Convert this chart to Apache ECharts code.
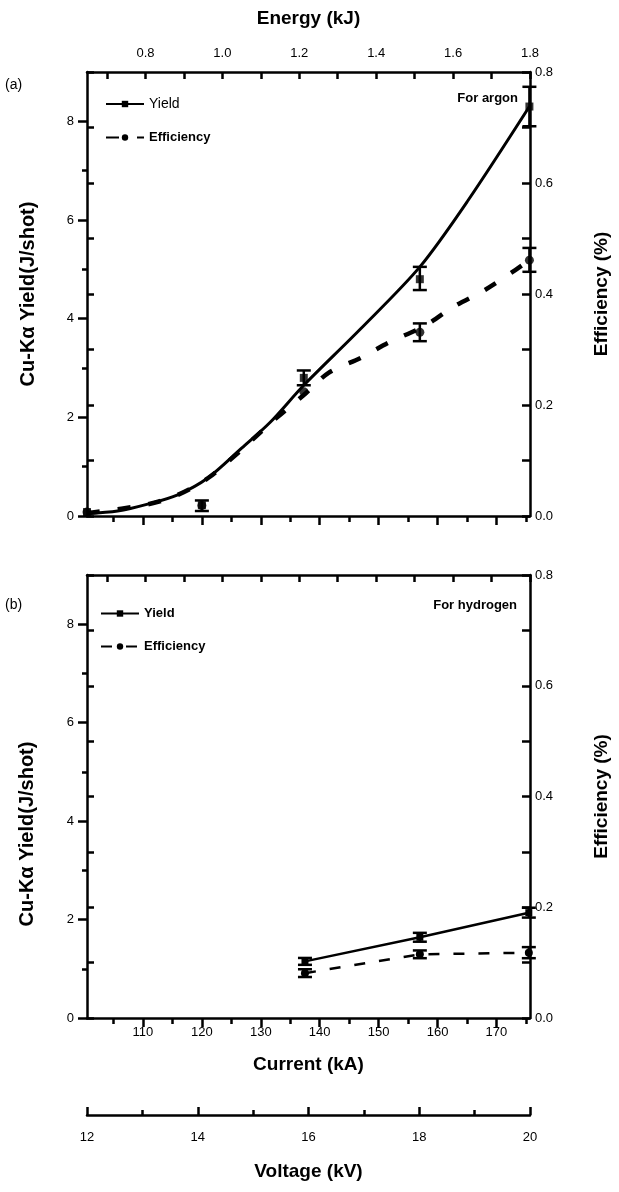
<!DOCTYPE html>
<html>
<head>
<meta charset="utf-8">
<title>Cu-Kα yield and efficiency</title>
<script src="https://cdn.jsdelivr.net/npm/echarts@6/dist/echarts.min.js"></script>
<style>
html, body { margin: 0; padding: 0; background: #fff; }
#chart { width: 619px; height: 1192px; }
</style>
</head>
<body>
<div id="chart"></div>
<script>
// tick positions / labels
const energyLabels = [0.8, 1.0, 1.2, 1.4, 1.6, 1.8];
const energyTicks = [0.7, 0.8, 0.9, 1.0, 1.1, 1.2, 1.3, 1.4, 1.5, 1.6, 1.7, 1.8];
const currentLabels = [110, 120, 130, 140, 150, 160, 170];
const currentMinorTicks = [105, 115, 125, 135, 145, 155, 165, 175];
const voltageLabels = [12, 14, 16, 18, 20];
const voltageMinorTicks = [13, 15, 17, 19];
const yieldLabels = [0, 2, 4, 6, 8];
const yieldMinorTicks = [1, 3, 5, 7];
const effLabels = [0, 0.2, 0.4, 0.6, 0.8];
const effTicks = [0, 0.1, 0.2, 0.3, 0.4, 0.5, 0.6, 0.7, 0.8];

// (a) argon
const argonCurrent = [100.5, 120, 137.3, 157, 175.6];
const argonYield = [0.08, 0.22, 2.8, 4.8, 8.3];
const argonEff = [0.007, 0.019, 0.224, 0.331, 0.461];
const argonYieldErr = [[137.3, 2.65, 2.95], [157, 4.58, 5.05], [175.6, 7.9, 8.7]];
const argonEffErr = [[120, 0.009, 0.028], [157, 0.315, 0.347], [175.6, 0.44, 0.483]];
const argonYieldFitX = [100.5, 105.7, 110.8, 115.9, 121, 126.8, 131.6, 137.3, 147, 157, 165.2, 175.6];
const argonYieldFit = [0.05, 0.1, 0.24, 0.43, 0.77, 1.38, 1.9, 2.65, 3.8, 5.05, 6.4, 8.3];
const argonEffFitX = [100.5, 110.8, 115.9, 121, 126.8, 131.6, 137.3, 141.5, 147, 151.6, 157.9, 162.7, 168, 173.2, 175.6];
const argonEffFit = [0.005, 0.021, 0.038, 0.068, 0.12, 0.167, 0.218, 0.258, 0.285, 0.312, 0.343, 0.377, 0.407, 0.443, 0.461];

// (b) hydrogen
const hydrogenCurrent = [137.5, 157, 175.5];
const hydrogenYield = [1.15, 1.64, 2.14];
const hydrogenEff = [0.081, 0.115, 0.118];
const hydrogenYieldErr = [[137.5, 1.08, 1.22], [157, 1.55, 1.73], [175.5, 2.04, 2.24]];
const hydrogenEffErr = [[137.5, 0.074, 0.088], [157, 0.108, 0.122], [175.5, 0.108, 0.128]];

const FONT = 'Liberation Sans';
const BLACK = '#000';

function pairs(xs, ys) {
    return xs.map((x, i) => [x, ys[i]]);
}

function errorBar(params, api) {
    const x = api.value(0);
    const lo = api.coord([x, api.value(1)]);
    const hi = api.coord([x, api.value(2)]);
    const half = 7;
    const style = { stroke: BLACK, lineWidth: 2.5 };
    return {
        type: 'group',
        children: [
            { type: 'line', shape: { x1: lo[0], y1: lo[1], x2: hi[0], y2: hi[1] }, style: style },
            { type: 'line', shape: { x1: lo[0] - half, y1: lo[1], x2: lo[0] + half, y2: lo[1] }, style: style },
            { type: 'line', shape: { x1: hi[0] - half, y1: hi[1], x2: hi[0] + half, y2: hi[1] }, style: style }
        ]
    };
}

// an axis that only draws ticks (no line, no labels)
function tickAxis(grid, position, min, max, ticks, len, inside, extra) {
    return Object.assign({
        type: 'value', gridIndex: grid, position: position, min: min, max: max,
        axisLine: { show: false, onZero: false },
        axisTick: { show: true, inside: inside, length: len, customValues: ticks, lineStyle: { color: BLACK, width: 2.5 } },
        axisLabel: { show: false },
        splitLine: { show: false }
    }, extra || {});
}

const lineAxis = { show: true, onZero: false, lineStyle: { color: BLACK, width: 2.5 } };
const labelStyle = { color: BLACK, fontSize: 13, fontFamily: FONT };
const titleStyle = { color: BLACK, fontSize: 19, fontWeight: 'bold', fontFamily: FONT };

const CMIN = 100.5, CMAX = 175.7;
const EMIN = 0.648, EMAX = 1.8;

const xAxes = [
    // 0: panel a current (bottom, no labels)
    {
        type: 'value', gridIndex: 0, position: 'bottom', min: CMIN, max: CMAX,
        axisLine: lineAxis,
        axisTick: { show: true, length: 9, customValues: currentLabels, lineStyle: { color: BLACK, width: 2.5 } },
        axisLabel: { show: false }, splitLine: { show: false }
    },
    tickAxis(0, 'bottom', CMIN, CMAX, currentMinorTicks, 6, false),
    // 2: panel a energy (top)
    {
        type: 'value', gridIndex: 0, position: 'top', min: EMIN, max: EMAX,
        name: 'Energy (kJ)', nameLocation: 'middle', nameGap: 44, nameTextStyle: titleStyle,
        axisLine: lineAxis,
        axisTick: { show: true, inside: true, length: 7, customValues: energyTicks, lineStyle: { color: BLACK, width: 2.5 } },
        axisLabel: Object.assign({ margin: 12, customValues: energyLabels, formatter: v => v.toFixed(1) }, labelStyle),
        splitLine: { show: false }
    },
    // 3: panel b current
    {
        type: 'value', gridIndex: 1, position: 'bottom', min: CMIN, max: CMAX,
        name: 'Current (kA)', nameLocation: 'middle', nameGap: 37, nameTextStyle: titleStyle,
        axisLine: lineAxis,
        axisTick: { show: true, length: 9, customValues: currentLabels, lineStyle: { color: BLACK, width: 2.5 } },
        axisLabel: Object.assign({ margin: 8, customValues: currentLabels }, labelStyle),
        splitLine: { show: false }
    },
    tickAxis(1, 'bottom', CMIN, CMAX, currentMinorTicks, 6, false),
    // 5: panel b energy ticks on top
    {
        type: 'value', gridIndex: 1, position: 'top', min: EMIN, max: EMAX,
        axisLine: lineAxis,
        axisTick: { show: true, inside: true, length: 7, customValues: energyTicks, lineStyle: { color: BLACK, width: 2.5 } },
        axisLabel: { show: false }, splitLine: { show: false }
    },
    // 6: voltage axis under panel b
    {
        type: 'value', gridIndex: 1, position: 'bottom', offset: 97, min: 12, max: 20,
        name: 'Voltage (kV)', nameLocation: 'middle', nameGap: 47, nameTextStyle: titleStyle,
        axisLine: lineAxis,
        axisTick: { show: true, inside: true, length: 8, customValues: voltageLabels, lineStyle: { color: BLACK, width: 2.5 } },
        axisLabel: Object.assign({ margin: 16, customValues: voltageLabels }, labelStyle),
        splitLine: { show: false }
    },
    tickAxis(1, 'bottom', 12, 20, voltageMinorTicks, 5, true, { offset: 97 })
];

function yieldAxis(grid) {
    return {
        type: 'value', gridIndex: grid, position: 'left', min: 0, max: 9,
        name: grid === 0 ? 'Cu-Kα Yield(J/shot)' : '', nameLocation: 'middle', nameGap: 49, nameRotate: 90,
        nameTextStyle: Object.assign({}, titleStyle, { fontSize: 20 }),
        axisLine: lineAxis,
        axisTick: { show: true, length: 9, customValues: yieldLabels, lineStyle: { color: BLACK, width: 2.5 } },
        axisLabel: Object.assign({ margin: 13, customValues: yieldLabels }, labelStyle),
        splitLine: { show: false }
    };
}

function effAxis(grid) {
    return {
        type: 'value', gridIndex: grid, position: 'right', min: 0, max: 0.8,
        name: 'Efficiency (%)', nameLocation: 'middle', nameGap: 62, nameRotate: 90,
        nameTextStyle: titleStyle,
        axisLine: lineAxis,
        axisTick: { show: true, inside: true, length: 8, customValues: effTicks, lineStyle: { color: BLACK, width: 2.5 } },
        axisLabel: Object.assign({ margin: 5, customValues: effLabels, formatter: v => v.toFixed(1) }, labelStyle),
        splitLine: { show: false }
    };
}

const yAxes = [
    yieldAxis(0),
    tickAxis(0, 'left', 0, 9, yieldMinorTicks, 5, false),
    effAxis(0),
    tickAxis(0, 'left', 0, 0.8, effTicks, 7, true),
    yieldAxis(1),
    tickAxis(1, 'left', 0, 9, yieldMinorTicks, 5, false),
    effAxis(1),
    tickAxis(1, 'left', 0, 0.8, effTicks, 7, true)
];

const series = [
    // panel a
    {
        name: 'Yield', type: 'line', xAxisIndex: 0, yAxisIndex: 0, smooth: 0.3,
        symbol: 'rect', showSymbol: false, symbolSize: 7,
        lineStyle: { color: BLACK, width: 3 }, itemStyle: { color: BLACK },
        data: pairs(argonYieldFitX, argonYieldFit), z: 3
    },
    {
        name: 'Efficiency', type: 'line', xAxisIndex: 0, yAxisIndex: 2, smooth: 0.3,
        symbol: 'circle', showSymbol: false, symbolSize: 8,
        lineStyle: { color: BLACK, width: 4.5, type: [13, 18] }, itemStyle: { color: BLACK },
        data: pairs(argonEffFitX, argonEffFit), z: 3
    },
    {
        name: 'Yield data', type: 'scatter', xAxisIndex: 0, yAxisIndex: 0,
        symbol: 'rect', symbolSize: 8, itemStyle: { color: BLACK },
        data: pairs(argonCurrent, argonYield), z: 4
    },
    {
        name: 'Efficiency data', type: 'scatter', xAxisIndex: 0, yAxisIndex: 2,
        symbol: 'circle', symbolSize: 9, itemStyle: { color: BLACK },
        data: pairs(argonCurrent, argonEff), z: 4
    },
    {
        name: 'Yield err', type: 'custom', xAxisIndex: 0, yAxisIndex: 0,
        renderItem: errorBar, encode: { x: 0, y: [1, 2] }, data: argonYieldErr, z: 5
    },
    {
        name: 'Efficiency err', type: 'custom', xAxisIndex: 0, yAxisIndex: 2,
        renderItem: errorBar, encode: { x: 0, y: [1, 2] }, data: argonEffErr, z: 5
    },
    // panel b
    {
        name: 'Yield (H)', type: 'line', xAxisIndex: 3, yAxisIndex: 4,
        symbol: 'rect', symbolSize: 7, showSymbol: true,
        lineStyle: { color: BLACK, width: 2.5 }, itemStyle: { color: BLACK },
        data: pairs(hydrogenCurrent, hydrogenYield), z: 3
    },
    {
        name: 'Efficiency (H)', type: 'line', xAxisIndex: 3, yAxisIndex: 6,
        symbol: 'circle', symbolSize: 8, showSymbol: true,
        lineStyle: { color: BLACK, width: 2.5, type: [11, 14] }, itemStyle: { color: BLACK },
        data: pairs(hydrogenCurrent, hydrogenEff), z: 3
    },
    {
        name: 'Yield err (H)', type: 'custom', xAxisIndex: 3, yAxisIndex: 4,
        renderItem: errorBar, encode: { x: 0, y: [1, 2] }, data: hydrogenYieldErr, z: 5
    },
    {
        name: 'Efficiency err (H)', type: 'custom', xAxisIndex: 3, yAxisIndex: 6,
        renderItem: errorBar, encode: { x: 0, y: [1, 2] }, data: hydrogenEffErr, z: 5
    }
];

const legendBase = {
    orient: 'vertical', itemWidth: 38, itemHeight: 8, itemGap: 20, selectedMode: false,
    textStyle: { color: BLACK, fontFamily: FONT, fontSize: 13, fontWeight: 'bold' },
    formatter: name => name.replace(' (H)', '')
};

const chart = echarts.init(document.getElementById('chart'));
chart.setOption({
    backgroundColor: '#fff',
    animation: false,
    color: [BLACK],
    textStyle: { fontFamily: FONT },
    grid: [
        { left: 87, top: 72, width: 444, height: 444 },
        { left: 87, top: 575, width: 444, height: 443 }
    ],
    legend: [
        Object.assign({}, legendBase, {
            left: 100, top: 92,
            data: [
                { name: 'Yield', textStyle: { fontWeight: 'normal', fontSize: 14 } },
                { name: 'Efficiency' }
            ]
        }),
        Object.assign({}, legendBase, {
            left: 95, top: 602,
            data: [{ name: 'Yield (H)' }, { name: 'Efficiency (H)' }]
        })
    ],
    xAxis: xAxes,
    yAxis: yAxes,
    graphic: [
        { type: 'text', left: 5, top: 78, style: { text: '(a)', font: '14px ' + FONT, fill: BLACK } },
        { type: 'text', left: 5, top: 598, style: { text: '(b)', font: '14px ' + FONT, fill: BLACK } },
        { type: 'text', right: 101, top: 92, style: { text: 'For argon', font: 'bold 13px ' + FONT, fill: BLACK } },
        { type: 'text', right: 102, top: 599, style: { text: 'For hydrogen', font: 'bold 13px ' + FONT, fill: BLACK } },
        {
            type: 'text', x: 27, y: 834, rotation: Math.PI / 2,
            style: { text: 'Cu-Kα Yield(J/shot)', font: 'bold 20px ' + FONT, fill: BLACK, align: 'center', verticalAlign: 'middle' }
        }
    ],
    series: series
});
</script>
</body>
</html>
